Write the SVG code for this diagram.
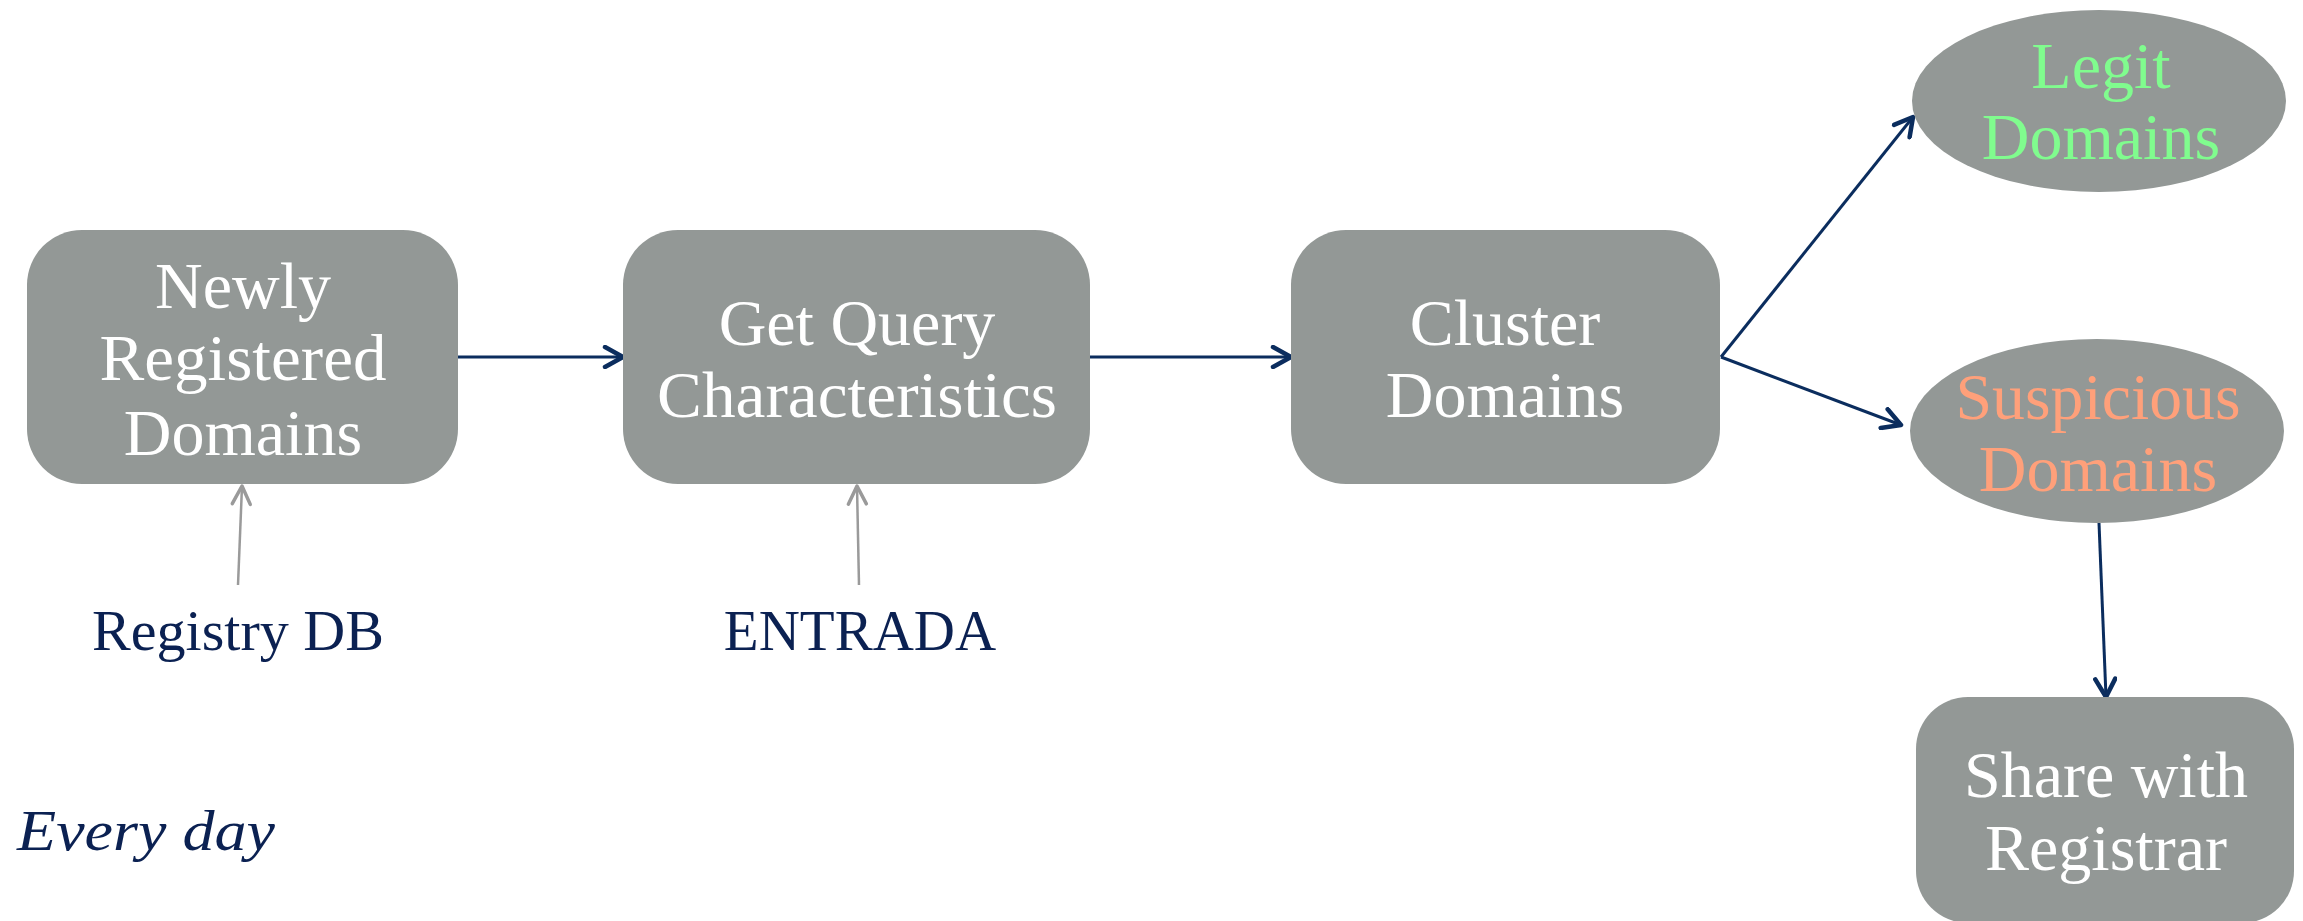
<svg xmlns="http://www.w3.org/2000/svg" width="2303" height="921" viewBox="0 0 2303 921">
<style>
.box{fill:#939896}
.t{font-family:"Liberation Serif","DejaVu Serif",serif;font-size:66px;text-anchor:middle;fill:#ffffff}
.lbl{font-family:"Liberation Serif","DejaVu Serif",serif;font-size:57px;text-anchor:middle;fill:#0b2152}
.nav{stroke:#0b2d5e;stroke-width:3;fill:none}
.gr{stroke:#9a9a9a;stroke-width:2.5;fill:none}
</style>
<defs>
<marker id="ah" viewBox="0 0 24 24" markerWidth="24" markerHeight="24" refX="21" refY="12" orient="auto" markerUnits="userSpaceOnUse">
<path d="M3,2 L21,12 L3,22" fill="none" stroke="#0b2d5e" stroke-width="4.5" stroke-linecap="round" stroke-linejoin="round"/>
</marker>
<marker id="ahg" viewBox="0 0 24 24" markerWidth="24" markerHeight="24" refX="21" refY="12" orient="auto" markerUnits="userSpaceOnUse">
<path d="M3,3 L21,12 L3,21" fill="none" stroke="#9a9a9a" stroke-width="3.5" stroke-linecap="round" stroke-linejoin="round"/>
</marker>
</defs>
<rect width="2303" height="921" fill="#ffffff"/>
<g id="connectors">
<line class="nav" x1="458" y1="357" x2="623" y2="357" marker-end="url(#ah)"/>
<line class="nav" x1="1090" y1="357" x2="1291" y2="357" marker-end="url(#ah)"/>
<line class="nav" x1="1721" y1="357" x2="1913" y2="117" marker-end="url(#ah)"/>
<line class="nav" x1="1721" y1="357" x2="1901" y2="425" marker-end="url(#ah)"/>
<line class="nav" x1="2099" y1="523" x2="2106" y2="697" marker-end="url(#ah)"/>
<line class="gr" x1="238" y1="585" x2="242" y2="486" marker-end="url(#ahg)"/>
<line class="gr" x1="859" y1="585" x2="857" y2="486" marker-end="url(#ahg)"/>
</g>
<g id="newly">
<rect class="box" x="27" y="230" width="431" height="254" rx="55" ry="55"/>
<text class="t" x="243" y="308">Newly</text>
<text class="t" x="243" y="380" textLength="287" lengthAdjust="spacingAndGlyphs">Registered</text>
<text class="t" x="243" y="455">Domains</text>
</g>
<g id="query">
<rect class="box" x="623" y="230" width="467" height="254" rx="55" ry="55"/>
<text class="t" x="857" y="345">Get Query</text>
<text class="t" x="857" y="417" textLength="400" lengthAdjust="spacingAndGlyphs">Characteristics</text>
</g>
<g id="cluster">
<rect class="box" x="1291" y="230" width="429" height="254" rx="55" ry="55"/>
<text class="t" x="1505" y="345">Cluster</text>
<text class="t" x="1505" y="417">Domains</text>
</g>
<g id="legit">
<ellipse class="box" cx="2099" cy="101" rx="187" ry="91"/>
<text class="t" x="2101" y="88" style="fill:#80fc8e">Legit</text>
<text class="t" x="2101" y="159" style="fill:#80fc8e">Domains</text>
</g>
<g id="suspicious">
<ellipse class="box" cx="2097" cy="431" rx="187" ry="92"/>
<text class="t" x="2098" y="419" style="fill:#ffa07a" textLength="285" lengthAdjust="spacingAndGlyphs">Suspicious</text>
<text class="t" x="2098" y="491" style="fill:#ffa07a">Domains</text>
</g>
<g id="share">
<rect class="box" x="1916" y="697" width="378" height="226" rx="52" ry="52"/>
<text class="t" x="2106" y="797">Share with</text>
<text class="t" x="2106" y="870">Registrar</text>
</g>
<g id="registry">
<text class="lbl" x="238" y="650" textLength="292" lengthAdjust="spacingAndGlyphs">Registry DB</text>
</g>
<g id="entrada">
<text class="lbl" x="860" y="650">ENTRADA</text>
</g>
<g id="everyday">
<text class="lbl" x="17" y="850" style="text-anchor:start;font-style:italic" textLength="258" lengthAdjust="spacingAndGlyphs">Every day</text>
</g>
</svg>
